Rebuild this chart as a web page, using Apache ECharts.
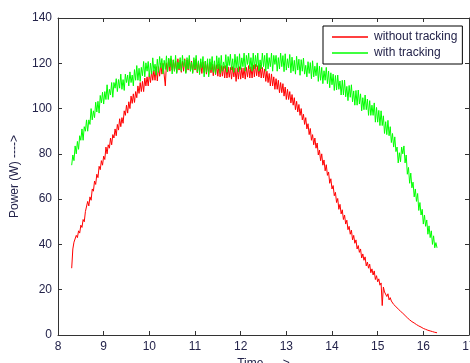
<!DOCTYPE html>
<html>
<head>
<meta charset="utf-8">
<script src="https://cdn.jsdelivr.net/npm/echarts@6/dist/echarts.min.js"></script>
<style>
html,body{margin:0;padding:0;background:#fff;overflow:hidden;}
#chart{width:470px;height:363px;}
</style>
</head>
<body>
<div id="chart"></div>
<script>
// Sample times (hours)
var times = [
8.3,8.325,8.35,8.375,8.4,8.425,8.45,8.475,8.5,8.525,
8.55,8.575,8.6,8.625,8.65,8.675,8.7,8.725,8.75,8.775,
8.8,8.825,8.85,8.875,8.9,8.925,8.95,8.975,9.0,9.025,
9.05,9.075,9.1,9.125,9.15,9.175,9.2,9.225,9.25,9.275,
9.3,9.325,9.35,9.375,9.4,9.425,9.45,9.475,9.5,9.525,
9.55,9.575,9.6,9.625,9.65,9.675,9.7,9.725,9.75,9.775,
9.8,9.825,9.85,9.875,9.9,9.925,9.95,9.975,10.0,10.025,
10.05,10.075,10.1,10.125,10.15,10.175,10.2,10.225,10.25,10.275,
10.3,10.325,10.35,10.375,10.4,10.425,10.45,10.475,10.5,10.525,
10.55,10.575,10.6,10.625,10.65,10.675,10.7,10.725,10.75,10.775,
10.8,10.825,10.85,10.875,10.9,10.925,10.95,10.975,11.0,11.025,
11.05,11.075,11.1,11.125,11.15,11.175,11.2,11.225,11.25,11.275,
11.3,11.325,11.35,11.375,11.4,11.425,11.45,11.475,11.5,11.525,
11.55,11.575,11.6,11.625,11.65,11.675,11.7,11.725,11.75,11.775,
11.8,11.825,11.85,11.875,11.9,11.925,11.95,11.975,12.0,12.025,
12.05,12.075,12.1,12.125,12.15,12.175,12.2,12.225,12.25,12.275,
12.3,12.325,12.35,12.375,12.4,12.425,12.45,12.475,12.5,12.525,
12.55,12.575,12.6,12.625,12.65,12.675,12.7,12.725,12.75,12.775,
12.8,12.825,12.85,12.875,12.9,12.925,12.95,12.975,13.0,13.025,
13.05,13.075,13.1,13.125,13.15,13.175,13.2,13.225,13.25,13.275,
13.3,13.325,13.35,13.375,13.4,13.425,13.45,13.475,13.5,13.525,
13.55,13.575,13.6,13.625,13.65,13.675,13.7,13.725,13.75,13.775,
13.8,13.825,13.85,13.875,13.9,13.925,13.95,13.975,14.0,14.025,
14.05,14.075,14.1,14.125,14.15,14.175,14.2,14.225,14.25,14.275,
14.3,14.325,14.35,14.375,14.4,14.425,14.45,14.475,14.5,14.525,
14.55,14.575,14.6,14.625,14.65,14.675,14.7,14.725,14.75,14.775,
14.8,14.825,14.85,14.875,14.9,14.925,14.95,14.975,15.0,15.025,
15.05,15.075,15.1,15.125,15.15,15.175,15.2,15.225,15.25,15.275,
15.3,15.325,15.35,15.375,15.4,15.425,15.45,15.475,15.5,15.525,
15.55,15.575,15.6,15.625,15.65,15.675,15.7,15.725,15.75,15.775,
15.8,15.825,15.85,15.875,15.9,15.925,15.95,15.975,16.0,16.025,
16.05,16.075,16.1,16.125,16.15,16.175,16.2,16.225,16.25,16.275,
16.3];

// Power without tracking (W)
var withoutTracking = [
29.5,38,41,40.5,44,43,46,45,48.5,47.5,
51,50,54.5,54,59,57,61,59.5,64.5,63.5,
68,66.5,71,69.5,74.5,73,77,75,79,77.5,
83,80,84,82.5,87,84,88.5,87,91,88,
93,90.5,95.5,92,96,93.5,99,97,101.5,98,
103,100,105.5,102.3,106.5,102.7,107.5,104.8,110,106.7,
111.5,107.5,112,107.5,113.5,110,114,110,115.5,111.5,
116.5,112.5,117,112.5,118.5,112.2,118.5,114.3,120,115.2,
120,114.8,110,120.2,116.5,121.8,116.5,122,117,121.5,
116.5,121,116,122,117,121.5,116,121,116.5,122,
116,121.5,117,122,116.5,121,116,121.5,117,122,
115.8,120.7,116.1,120.5,115.5,120.5,115.9,120.8,115.2,120.1,
115,120.5,115.8,119.7,114.5,119.5,115,119.4,114.3,119.7,
114,119,114.3,118.7,113.5,119,113.5,118.4,113.8,118.2,
113,118.5,114,118,112,118,113,118.5,113,118,
113.5,118,113,118.2,113.9,119,113.5,118.5,113.5,119.3,
114,119.5,114.5,119,114,119.3,113.5,118.2,113.5,117.5,
112,116.5,111.5,115.5,110,115.3,110,114,108.5,113.2,
108.5,112.5,107,111.5,107,111,105.5,109.5,104,108.5,
104,107.5,102.5,106.2,101.5,104.8,99.5,103.2,98.5,101.8,
97,100,95,97.5,93,96,91,93.3,88.5,91.2,
86,88.5,84,87,82.5,84.8,79.5,81.7,77,80,
75,77.3,72.5,75.2,70.5,72,67,69,64.5,66,
61.5,63,58.5,60.3,55.5,57.7,53.5,55.3,51,53,
49,50.7,46.5,48,44.5,46.3,42,44,40.5,42,
38,39.5,36.5,38,34,35.8,33,34.5,30.5,32.2,
29.5,31.3,27.5,29.2,26.5,28.3,24.5,26.2,23.5,24.8,
22,23,13,21.2,19,19.8,17,18.2,15.5,16.5,
15,15.6,13.5,14.3,12.5,13,11.5,12.3,10.5,11,
9.6,10,8.6,9,7.6,7.9,6.7,7,5.9,6.1,
5.3,5.5,4.6,4.7,4.0,4.1,3.5,3.4,2.9,2.9,
2.5,2.5,2.1,2.1,1.8,1.7,1.5,1.4,1.2,1.1,
1];

// Power with tracking (W)
var withTracking = [
75,79.5,77,83.5,80,85.5,82,88,86,91,
86,92,90,95,90,95,93,100,95,99,
96,102.8,98.5,103.2,98,105.8,102.5,107.2,102,107.5,
104,110.5,104,108.5,106,111.5,105,111.5,109,113.2,
107.5,112.8,109,115.2,108.5,112.8,108,115.2,111.5,114.8,
110,116.2,111.5,114.8,110,117.2,112.5,119,112.5,117.8,
112,118.2,114.5,120.8,114,120.2,116.5,120.8,114,120.1,
115.2,122.4,116.5,119.6,114.7,121.8,116,123,118,122.1,
115.3,121.3,117.3,123.3,116.3,122.3,118.3,123.3,115.3,121.5,
116.5,123.5,115.5,120.5,117.5,122.5,116.5,123.5,118.5,121.5,
115.5,122.5,117.5,123.5,116.5,120.5,115.5,122.5,117.5,123.5,
116.2,121.1,115,122,118,123,114,121,116,122,
114,122,117,123,116,121.1,115.2,123.3,117.5,122.5,
115.5,123.5,116.5,120.6,117.7,123.8,116,123,119,124,
117,122,116,124,118,123,116.2,124.2,117.3,122.4,
118.5,124.5,116.5,123.5,119.5,124.5,117.5,122.5,116.5,124.5,
117.5,123.5,118.5,124.5,116.5,121.5,117.5,124.5,118.5,123.5,
116.5,124.5,117.5,122.5,118.5,124.5,116.5,123.5,119.5,123.5,
116.5,122.5,117.5,124.5,118.5,123.4,116.3,124.2,117,122,
118,123.9,115.8,122.7,116.5,121.3,115.2,123.1,117,121.8,
114.7,121.6,116.5,122.3,115.2,119.1,114,120.7,115.5,120.3,
113.2,121.1,114,118.7,114.5,120.2,112,118.7,112.5,118.2,
111,116.7,112.5,118.2,111,116.6,109.2,115.8,110.5,115.2,
108,114.6,108.2,114.8,108.5,112.2,106,112.5,106,112.6,
105.2,109.8,103.5,110.2,105,110.5,103,107.8,101.5,108,
101.5,108.2,102,106.5,99,104.8,99.5,106,99.5,104.2,
97,103.5,97,101.5,97,102.5,94,100.5,94,99.2,
92.5,99,92.5,96.8,89,94.2,88.5,94.8,88,92,
85,89,83,87.5,81,83,76,80.5,76.5,83,
80,83.5,76,79.5,71,74,67,71.5,65,67.5,
61,64.5,59,62.5,55,58.5,53,55.5,49,53,
48,50.8,44.5,48.2,43,46,40,43.8,38.5,40.8,
38.5];

var seriesNames = ['without tracking', 'with tracking'];
var xTicks = [8, 17, 1];   // min, max, interval
var yTicks = [0, 140, 20]; // min, max, interval

function pairs(xs, ys) {
  var out = [];
  for (var i = 0; i < ys.length; i++) out.push([xs[i], ys[i]]);
  return out;
}

var textColor = '#23234a';
var axisColor = '#333333';
var font = 'Liberation Sans, Arial, sans-serif';
var chart = echarts.init(document.getElementById('chart'), null, {renderer: 'canvas'});

var baseAxis = {
  axisLine: {show: true, onZero: false, lineStyle: {color: axisColor, width: 1}},
  axisTick: {show: true, inside: true, length: 4, lineStyle: {color: axisColor}},
  splitLine: {show: false}
};

chart.setOption({
  animation: false,
  backgroundColor: '#ffffff',
  grid: {left: 58, right: 1, top: 18, bottom: 28, containLabel: false, outerBoundsMode: 'none'},
  legend: {
    data: seriesNames,
    orient: 'vertical',
    left: 323,
    top: 26,
    icon: 'rect',
    itemWidth: 36,
    itemHeight: 1.5,
    itemGap: 2,
    padding: [4, 5, 4, 9],
    backgroundColor: '#ffffff',
    borderColor: '#000000',
    borderWidth: 1,
    borderRadius: 0,
    textStyle: {fontFamily: font, fontSize: 12, color: textColor, padding: [0, 0, 0, 1], lineHeight: 14}
  },
  xAxis: [
    Object.assign({}, baseAxis, {
      type: 'value', position: 'bottom', min: xTicks[0], max: xTicks[1], interval: xTicks[2],
      name: 'Time ---->', nameLocation: 'middle', nameGap: 22,
      nameTextStyle: {fontFamily: font, fontSize: 12, color: textColor},
      axisLabel: {show: true, margin: 6, fontFamily: font, fontSize: 12, color: textColor, showMaxLabel: true, showMinLabel: true}
    }),
    Object.assign({}, baseAxis, {
      type: 'value', position: 'top', min: xTicks[0], max: xTicks[1], interval: xTicks[2],
      axisLabel: {show: false}
    })
  ],
  yAxis: [
    Object.assign({}, baseAxis, {
      type: 'value', position: 'left', min: yTicks[0], max: yTicks[1], interval: yTicks[2],
      name: 'Power (W) ---->', nameLocation: 'middle', nameGap: 35, nameRotate: 90,
      nameTextStyle: {fontFamily: font, fontSize: 12, color: textColor},
      axisLabel: {show: true, margin: 6, fontFamily: font, fontSize: 12, color: textColor}
    }),
    Object.assign({}, baseAxis, {
      type: 'value', position: 'right', min: yTicks[0], max: yTicks[1], interval: yTicks[2],
      axisLabel: {show: false}
    })
  ],
  series: [
    {
      name: seriesNames[0], type: 'line', xAxisIndex: 0, yAxisIndex: 0,
      data: pairs(times, withoutTracking),
      showSymbol: false, symbol: 'none', color: '#ff0000',
      lineStyle: {width: 1, color: '#ff0000'}, z: 2
    },
    {
      name: seriesNames[1], type: 'line', xAxisIndex: 0, yAxisIndex: 0,
      data: pairs(times, withTracking),
      showSymbol: false, symbol: 'none', color: '#00ff00',
      lineStyle: {width: 1, color: '#00ff00'}, z: 3
    }
  ]
});
</script>
</body>
</html>
